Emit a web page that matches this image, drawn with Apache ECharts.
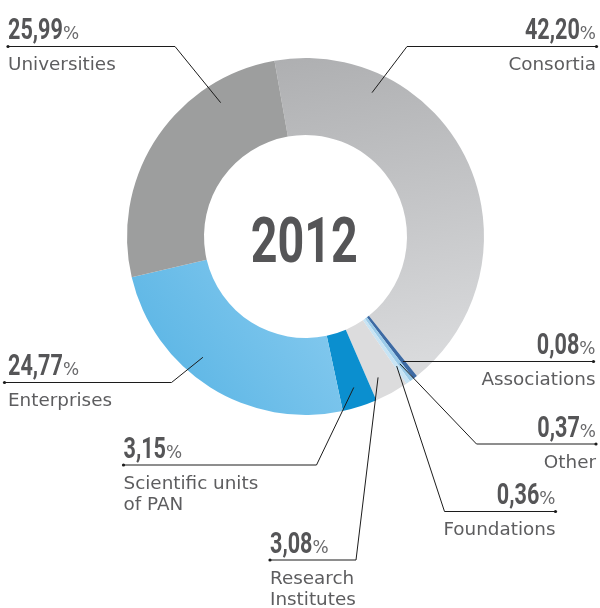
<!DOCTYPE html>
<html>
<head>
<meta charset="utf-8">
<script src="https://cdn.jsdelivr.net/npm/echarts@6/dist/echarts.min.js"></script>
<style>
  html, body { margin: 0; padding: 0; background: #ffffff; }
  #chart { width: 600px; height: 608px; }
</style>
</head>
<body>
<div id="chart"></div>
<script>
// Shares of funding by type of beneficiary, 2012 (percent), clockwise from the top
const categories = ['Consortia', 'Associations', 'Other', 'Foundations',
  'Research\nInstitutes', 'Scientific units\nof PAN', 'Enterprises', 'Universities'];
const shares = [42.20, 0.08, 0.37, 0.36, 3.08, 3.15, 24.77, 25.99];
const yearLabel = '2012';

const sliceColors = [
  { type: 'linear', x: 0, y: 0, x2: 0.3, y2: 1,
    colorStops: [{ offset: 0, color: '#aeafb1' }, { offset: 1, color: '#d9dadc' }] },
  '#3d6aa3',
  '#9dcce9',
  '#c8e4f4',
  '#dcdcdd',
  '#0b8fcf',
  { type: 'linear', x: 0, y: 1, x2: 1, y2: 0,
    colorStops: [{ offset: 0, color: '#52b1e3' }, { offset: 1, color: '#8ccdf0' }] },
  '#9d9e9e'
];

// Callout placement: side of the text, y of the rule, elbow x, outer end x,
// text anchor x and where along the slice the leader starts (0..1)
const callouts = [
  { side: 'right', lineY: 46.5, elbowX: 407, endX: 596.5, textX: 596, along: 0.23 },
  { side: 'right', flat: true, endX: 593.5, textX: 595.5, along: 0.5 },
  { side: 'right', lineY: 444, elbowX: 476.5, endX: 596, textX: 596, along: 0.5 },
  { side: 'right', lineY: 511.5, elbowX: 444.5, endX: 555.5, textX: 555.5, along: 0.5 },
  { side: 'left', lineY: 560, elbowX: 356, endX: 270, textX: 270, along: 0.65 },
  { side: 'left', lineY: 465, elbowX: 316.5, endX: 123.5, textX: 123.5, along: 0.5 },
  { side: 'left', lineY: 382.5, elbowX: 171.5, endX: 4.5, textX: 8, along: 0.59 },
  { side: 'left', lineY: 46.5, elbowX: 175, endX: 8, textX: 8, along: 0.76 }
];

const CX = 305.5, CY = 236.5, R_IN = 101.5, R_OUT = 178.5;

const NUM_FONT = "bold 30px Roboto, 'DejaVu Sans Condensed', sans-serif";
const NUM_SCALE = 0.72;
const YEAR_FONT = "bold 63px Roboto, 'DejaVu Sans Condensed', sans-serif";
const YEAR_SCALE = 0.74;
const PCT_FONT = "17px 'DejaVu Sans', sans-serif";
const NAME_FONT = "17px 'DejaVu Sans', 'Noto Sans', sans-serif";
const NAME_SCALE = 1.08;
const INK = '#1c1c1c';

const chart = echarts.init(document.getElementById('chart'), null, { renderer: 'canvas' });

chart.setOption({
  animation: false,
  backgroundColor: '#ffffff',
  series: [{
    type: 'pie',
    center: [CX, CY],
    radius: [R_IN, R_OUT],
    startAngle: 100,
    clockwise: true,
    minAngle: 1.4,
    avoidLabelOverlap: false,
    silent: true,
    emphasis: { disabled: true },
    itemStyle: { borderWidth: 0 },
    label: { show: false },
    labelLine: { show: false },
    data: shares.map((v, i) => ({
      name: categories[i].replace('\n', ' '),
      value: v,
      itemStyle: { color: sliceColors[i] }
    }))
  }]
});

// Callouts are built from the slice geometry the pie layout produced
const measureCtx = document.createElement('canvas').getContext('2d');
function textWidth(str, font) {
  measureCtx.font = font;
  return measureCtx.measureText(str).width;
}
function fmtShare(v) {
  return v.toFixed(2).replace('.', ',');
}

const sliceData = chart.getModel().getSeriesByIndex(0).getData();
const overlay = [{
  type: 'text', x: CX - 1.3, y: CY + 9.5, scaleX: YEAR_SCALE, silent: true, z: 10,
  style: { text: yearLabel, font: YEAR_FONT, fill: '#555557', align: 'center', verticalAlign: 'middle' }
}];

shares.forEach((v, i) => {
  const c = callouts[i];
  const lay = sliceData.getItemLayout(i);
  const a = lay.startAngle + c.along * (lay.endAngle - lay.startAngle);
  const rr = lay.r0 + 0.74 * (lay.r - lay.r0);
  const ax = lay.cx + rr * Math.cos(a);
  const ay = lay.cy + rr * Math.sin(a);
  const ly = c.flat ? ay : c.lineY;
  const elbow = c.flat ? [ax, ay] : [c.elbowX, ly];

  overlay.push({
    type: 'polyline', silent: true, z: 10,
    shape: { points: [[ax, ay], elbow, [c.endX, ly]] },
    style: { stroke: INK, lineWidth: 1, fill: null }
  });
  overlay.push({
    type: 'circle', silent: true, z: 10,
    shape: { cx: c.endX, cy: ly, r: 1.6 },
    style: { fill: INK }
  });

  const numStr = fmtShare(v);
  const numW = textWidth(numStr, NUM_FONT) * NUM_SCALE;
  const pctW = textWidth('%', PCT_FONT);
  let numX, pctX;
  if (c.side === 'left') {
    numX = c.textX;
    pctX = c.textX + numW;
  } else {
    pctX = c.textX - pctW;
    numX = pctX - numW;
  }
  const valueY = ly - 15;
  overlay.push({
    type: 'text', x: numX, y: valueY, scaleX: NUM_SCALE, silent: true, z: 10,
    style: { text: numStr, font: NUM_FONT, fill: '#555557', align: 'left', verticalAlign: 'middle' }
  });
  overlay.push({
    type: 'text', x: pctX, y: valueY + 3.5, silent: true, z: 10,
    style: { text: '%', font: PCT_FONT, fill: '#6a6a6c', align: 'left', verticalAlign: 'middle' }
  });

  categories[i].split('\n').forEach((line, k) => {
    overlay.push({
      type: 'text', x: c.textX, y: ly + 19.5 + 21 * k, scaleX: NAME_SCALE, silent: true, z: 10,
      style: { text: line, font: NAME_FONT, fill: '#5d5d5f', align: c.side, verticalAlign: 'middle' }
    });
  });
});

chart.setOption({ graphic: overlay });
</script>
</body>
</html>
